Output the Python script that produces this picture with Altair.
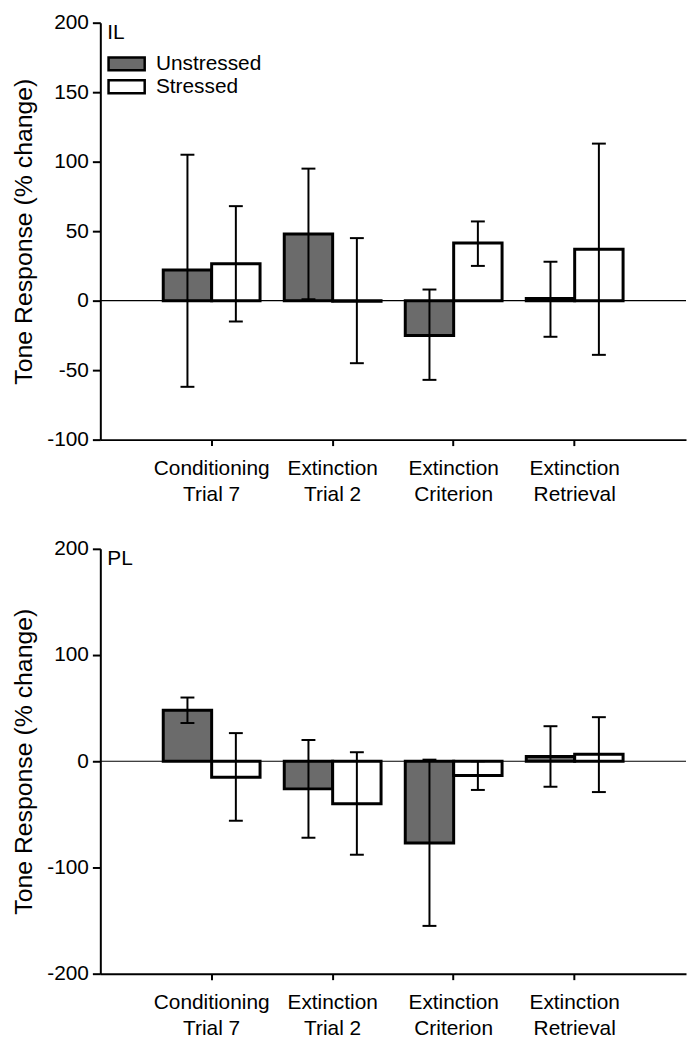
import altair as alt
import pandas as pd

categories = ["Conditioning Trial 7", "Extinction Trial 2", "Extinction Criterion", "Extinction Retrieval"]
groups = ["Unstressed", "Stressed"]

# IL panel
il_unstressed = [22, 48, -25, 1.5]
il_unstressed_hi = [105, 95, 8, 28]
il_unstressed_lo = [-62, 1, -57, -26]
il_stressed = [26.5, -0.5, 41.5, 37]
il_stressed_hi = [68, 45, 57, 113]
il_stressed_lo = [-15, -45, 25, -39]

# PL panel
pl_unstressed = [48, -26, -77, 4.5]
pl_unstressed_hi = [60, 20, 1.5, 33]
pl_unstressed_lo = [36, -72, -155, -24]
pl_stressed = [-15, -40, -13.5, 6.5]
pl_stressed_hi = [26.5, 8.5, 0, 41.5]
pl_stressed_lo = [-56, -88, -27, -29]

il_ticks = [-100, -50, 0, 50, 100, 150, 200]
pl_ticks = [-200, -100, 0, 100, 200]


def make_df(u, uhi, ulo, s, shi, slo):
    rows = []
    for i, c in enumerate(categories):
        rows.append({"category": c, "group": "Unstressed", "mean": u[i], "hi": uhi[i], "lo": ulo[i]})
        rows.append({"category": c, "group": "Stressed", "mean": s[i], "hi": shi[i], "lo": slo[i]})
    return pd.DataFrame(rows)


il_df = make_df(il_unstressed, il_unstressed_hi, il_unstressed_lo, il_stressed, il_stressed_hi, il_stressed_lo)
pl_df = make_df(pl_unstressed, pl_unstressed_hi, pl_unstressed_lo, pl_stressed, pl_stressed_hi, pl_stressed_lo)

label_expr = ("[substring(datum.label, 0, indexof(datum.label, ' ')), "
              "substring(datum.label, indexof(datum.label, ' ') + 1)]")


def panel(df, domain, ticks, name, show_legend, height):
    xs = alt.Scale(paddingInner=0.2, paddingOuter=0.52)
    xaxis = alt.Axis(title=None, labelExpr=label_expr, labelAngle=0, labelLineHeight=26,
                     labelPadding=12, labelFontSize=21, tickSize=6)
    x = alt.X("category:N", sort=categories, scale=xs, axis=xaxis)
    xo = alt.XOffset("group:N", sort=groups, scale=alt.Scale(domain=groups))
    ys = alt.Scale(domain=domain, nice=False, zero=False)
    yaxis = alt.Axis(values=ticks, grid=False, title="Tone Response (% change)", titlePadding=10,
                     labelExpr="replace(datum.label, '\u2212', '-')", tickSize=8, labelPadding=4)

    if show_legend:
        legend = alt.Legend(title=None, orient="none", legendX=16, legendY=31,
                            symbolType="M-2.8,-1H2.8V1H-2.8Z", symbolSize=169,
                            symbolStrokeColor="black", symbolStrokeWidth=2.5,
                            symbolOpacity=1, labelFontSize=21, labelOffset=19,
                            rowPadding=0, labelColor="black", labelFont="Liberation Sans")
    else:
        legend = None
    fill = alt.Fill("group:N", sort=groups,
                    scale=alt.Scale(domain=groups, range=["#6b6b6b", "#ffffff"]),
                    legend=legend)

    base = alt.Chart(df)
    zero = alt.Chart(pd.DataFrame({"z": [0]})).mark_rule(color="black", strokeWidth=1.2).encode(
        y=alt.Y("z:Q", scale=ys, axis=yaxis))
    bars = base.mark_bar(stroke="black", strokeWidth=3, opacity=1).encode(
        x=x, xOffset=xo, y=alt.Y("mean:Q", scale=ys, axis=yaxis), y2=alt.datum(0), fill=fill)
    err = base.mark_rule(color="black", strokeWidth=2).encode(
        x=x, xOffset=xo, y=alt.Y("lo:Q", scale=ys, axis=yaxis), y2="hi:Q")
    cap_hi = base.mark_tick(color="black", size=14, thickness=2, opacity=1).encode(
        x=x, xOffset=xo, y=alt.Y("hi:Q", scale=ys, axis=yaxis))
    cap_lo = base.mark_tick(color="black", size=14, thickness=2, opacity=1).encode(
        x=x, xOffset=xo, y=alt.Y("lo:Q", scale=ys, axis=yaxis))
    txt = alt.Chart(pd.DataFrame({"panel": [name]})).mark_text(
        align="left", baseline="top", fontSize=21, color="black", dx=7, dy=-1).encode(
        x=alt.value(0), y=alt.value(0), text="panel:N")
    return alt.layer(zero, bars, err, cap_hi, cap_lo, txt).properties(width=590, height=height)


top = panel(il_df, [-100, 200], il_ticks, "IL", True, 420)
bottom = panel(pl_df, [-200, 200], pl_ticks, "PL", False, 428)

chart = alt.vconcat(top, bottom, spacing=34).resolve_scale(
    y="independent", fill="independent").resolve_legend(fill="independent").properties(
    padding={"left": 3, "top": 0, "right": 0, "bottom": 0}
).configure(font="Liberation Sans").configure_axis(
    labelFontSize=21, titleFontSize=25, labelColor="black", titleColor="black",
    domainColor="black", tickColor="black", domainWidth=2, tickWidth=2,
    titleFontWeight="normal", labelFont="Liberation Sans",
    titleFont="Liberation Sans").configure_view(strokeWidth=0)

chart.save("out.html", embed_options={"renderer": "svg", "actions": False})
